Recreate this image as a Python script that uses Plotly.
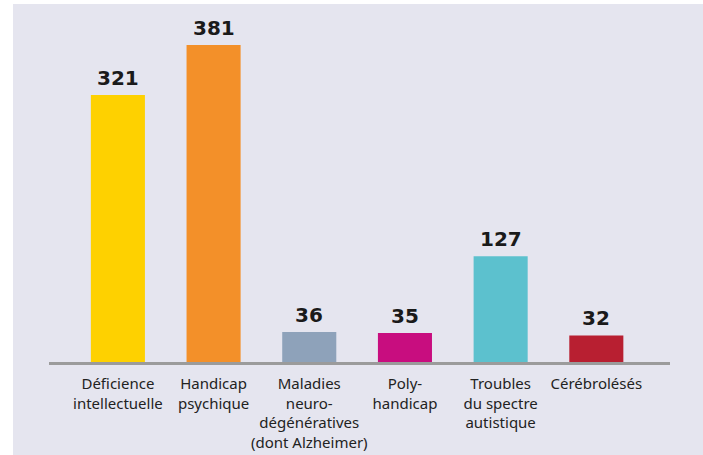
import plotly.graph_objects as go

# Chart data
categories = [
    "Déficience<br>intellectuelle",
    "Handicap<br>psychique",
    "Maladies<br>neuro-<br>dégénératives<br>(dont Alzheimer)",
    "Poly-<br>handicap",
    "Troubles<br>du spectre<br>autistique",
    "Cérébrolésés",
]
values = [321, 381, 36, 35, 127, 32]

# Styling
bar_colors = ["#FED100", "#F39029", "#8EA2BA", "#C80D7F", "#5CC1CE", "#B81F31"]
panel_color = "#E5E5EF"

W, H = 703, 455
margin = dict(l=49, r=33, t=20, b=93)
plot_w = W - margin["l"] - margin["r"]
plot_h = H - margin["t"] - margin["b"]


def px_to_paper_x(px):
    return (px - margin["l"]) / plot_w


def px_to_paper_y(py):
    return (H - margin["b"] - py) / plot_h


fig = go.Figure()

fig.add_trace(
    go.Bar(
        x=list(range(len(categories))),
        y=values,
        marker=dict(color=bar_colors, line=dict(width=0)),
        hoverinfo="skip",
    )
)

# value labels above each bar
for i, v in enumerate(values):
    fig.add_annotation(
        x=i,
        y=v,
        text=str(v),
        showarrow=False,
        yanchor="bottom",
        yshift=3,
        font=dict(family="DejaVu Sans", size=20, color="#1a1a1a", weight="bold"),
    )

# white strips along the left and top edges of the image
for x0, x1, y0, y1 in [(-10, 13, -10, H + 10), (-10, W + 10, -10, 4)]:
    fig.add_shape(
        type="rect",
        xref="paper",
        yref="paper",
        x0=px_to_paper_x(x0),
        x1=px_to_paper_x(x1),
        y0=px_to_paper_y(y1),
        y1=px_to_paper_y(y0),
        fillcolor="white",
        line=dict(width=0),
        layer="below",
    )

fig.update_layout(
    width=W,
    height=H,
    margin=dict(margin, autoexpand=False),
    paper_bgcolor=panel_color,
    plot_bgcolor=panel_color,
    showlegend=False,
    bargap=0.435,
    font=dict(family="Noto Sans", size=15, color="#222222"),
    xaxis=dict(
        range=[-0.72, 5.77],
        tickvals=list(range(len(categories))),
        ticktext=categories,
        tickangle=0,
        automargin=False,
        showline=True,
        linecolor="#9B9B9B",
        linewidth=3,
        showgrid=False,
        zeroline=False,
        ticks="",
        ticklabelstandoff=6,
    ),
    yaxis=dict(
        range=[0, plot_h / (317 / 381)],
        visible=False,
        automargin=False,
        showgrid=False,
        zeroline=False,
    ),
)

# drop the page's default body margin so the figure sits at the window corner
page_js = (
    "document.body.style.margin = '0px';"
    "document.body.style.overflow = 'hidden';"
    "document.documentElement.style.background = '" + panel_color + "';"
    "document.body.style.background = '" + panel_color + "';"
)
fig.write_html("out.html", config={"displayModeBar": False}, post_script=page_js)
